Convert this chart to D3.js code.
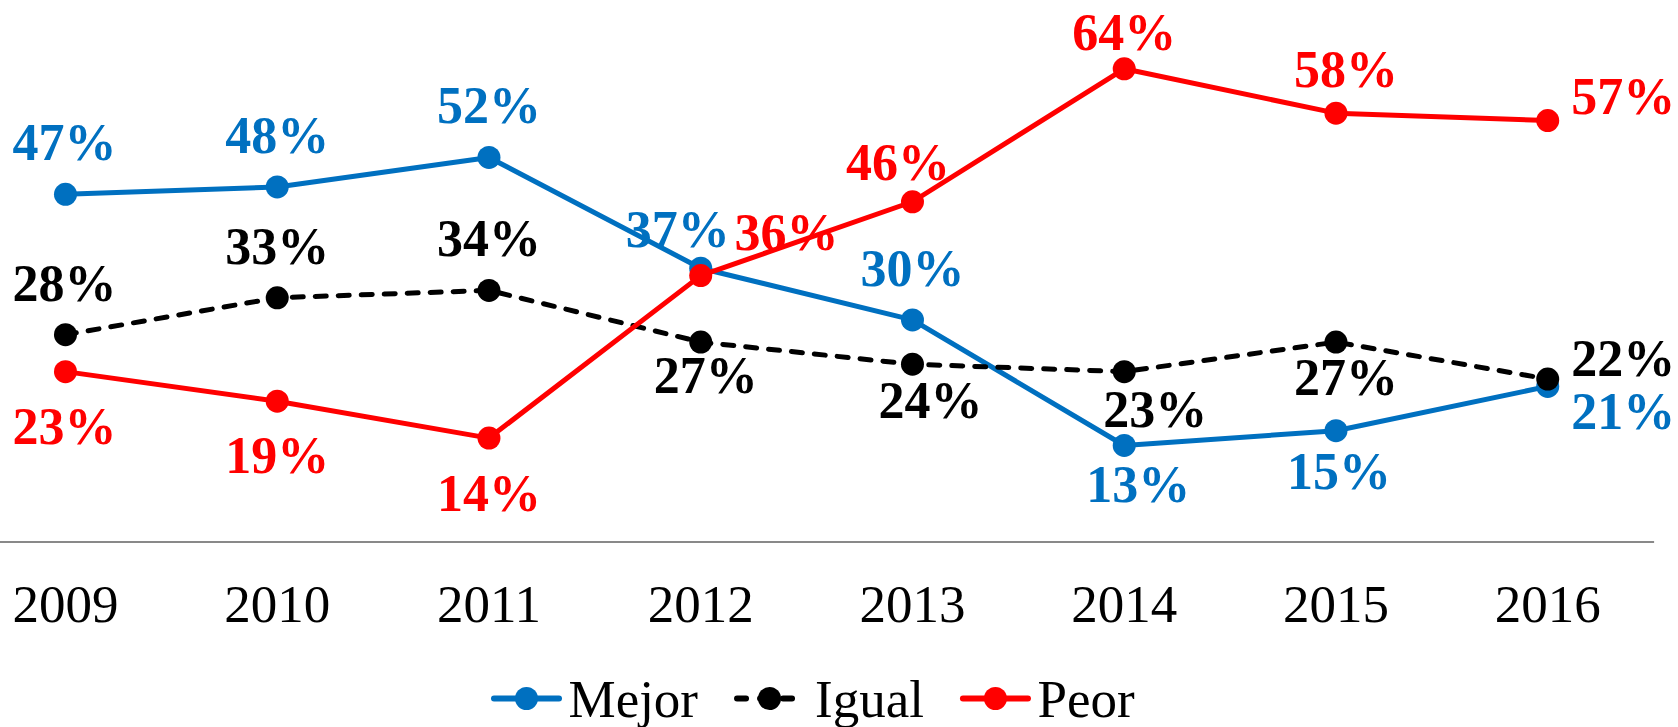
<!DOCTYPE html>
<html>
<head>
<meta charset="utf-8">
<script src="https://cdn.jsdelivr.net/npm/d3@7"></script>
<style>
  html, body { margin: 0; padding: 0; background: #fff; }
  svg { display: block; }
</style>
</head>
<body>
<svg id="chart" width="1678" height="727"></svg>
<script>
// ---- data ----
const categories = ["2009", "2010", "2011", "2012", "2013", "2014", "2015", "2016"];
const mejor = [47, 48, 52, 37, 30, 13, 15, 21];
const igual = [28, 33, 34, 27, 24, 23, 27, 22];
const peor  = [23, 19, 14, 36, 46, 64, 58, 57];
const seriesNames = ["Mejor", "Igual", "Peor"];

// ---- label placement (offsets from each point: dx, dy, anchor) ----
const labelPlacement = {
  Mejor: [[-1,-34,"middle"],[0,-34,"middle"],[0,-34,"middle"],[-23,-21.6,"middle"],[0,-34,"middle"],[14,56.5,"middle"],[3,58,"middle"],[23.6,42.6,"start"]],
  Igual: [[-1,-34,"middle"],[0,-34,"middle"],[0,-34,"middle"],[5,51,"middle"],[18,53.4,"middle"],[31,55.7,"middle"],[10,53,"middle"],[23.6,-3.3,"start"]],
  Peor:  [[-1,72.3,"middle"],[0,72.2,"middle"],[0,72.5,"middle"],[33.8,-25.6,"start"],[-14.6,-21.8,"middle"],[0,-19,"middle"],[10,-26,"middle"],[23.6,-7,"start"]]
};

const styles = {
  Mejor: { color: "#0070C0", dash: null },
  Igual: { color: "#000000", dash: "11,12" },
  Peor:  { color: "#FF0000", dash: null }
};

const svg = d3.select("#chart");
const x = d3.scaleBand().domain(categories).range([-40.4, 1653.6]);
const y = d3.scaleLinear().domain([0, 70]).range([541.5, 24.5]);
const cx = c => x(c) + x.bandwidth() / 2;

const font = "'Liberation Serif', 'Times New Roman', serif";

// axis
const axis = svg.append("g")
  .attr("transform", `translate(0,${y(0)})`)
  .call(d3.axisBottom(x).tickSize(0).tickSizeOuter(0));
axis.select(".domain").attr("stroke", "#898989").attr("stroke-width", 2);
axis.selectAll("text")
  .attr("y", 80.2).attr("dy", null)
  .attr("font-family", font).attr("font-size", 53).attr("fill", "#000");

const data = { Mejor: mejor, Igual: igual, Peor: peor };

const line = d3.line().x(d => cx(d.c)).y(d => y(d.v));

seriesNames.forEach(name => {
  const pts = categories.map((c, i) => ({ c, v: data[name][i], i }));
  const st = styles[name];
  const g = svg.append("g");
  g.append("path")
    .datum(pts)
    .attr("d", line)
    .attr("fill", "none")
    .attr("stroke", st.color)
    .attr("stroke-width", 5)
    .attr("stroke-linecap", st.dash ? "round" : "butt")
    .attr("stroke-linejoin", "round")
    .attr("stroke-dasharray", st.dash);
  g.selectAll("circle").data(pts).join("circle")
    .attr("cx", d => cx(d.c)).attr("cy", d => y(d.v))
    .attr("r", 11.5).attr("fill", st.color);
});

// labels drawn after all lines
seriesNames.forEach(name => {
  const pts = categories.map((c, i) => ({ c, v: data[name][i], i }));
  svg.append("g").selectAll("text").data(pts).join("text")
    .attr("x", d => cx(d.c) + labelPlacement[name][d.i][0])
    .attr("y", d => y(d.v) + labelPlacement[name][d.i][1])
    .attr("text-anchor", d => labelPlacement[name][d.i][2])
    .attr("font-family", font).attr("font-weight", "bold").attr("font-size", 52)
    .attr("fill", styles[name].color)
    .text(d => d.v + "%");
});

// legend
const legend = svg.append("g");
let lx = 491;
const ly = 698.5;
seriesNames.forEach(name => {
  const st = styles[name];
  const item = legend.append("g");
  item.append("line").attr("x1", lx + 3).attr("x2", lx + 68).attr("y1", ly).attr("y2", ly)
    .attr("stroke", st.color).attr("stroke-width", 6).attr("stroke-linecap", "round")
    .attr("stroke-dasharray", st.dash ? "9,14" : null);
  item.append("circle").attr("cx", lx + 35.5).attr("cy", ly).attr("r", 11.5).attr("fill", st.color);
  const tx = lx + (st.dash ? 81 : 77.5);
  const t = item.append("text").attr("x", tx).attr("y", 716.7)
    .attr("font-family", font).attr("font-size", 53).attr("fill", "#000").text(name);
  lx = tx + t.node().getComputedTextLength() + 36;
});
</script>
</body>
</html>
